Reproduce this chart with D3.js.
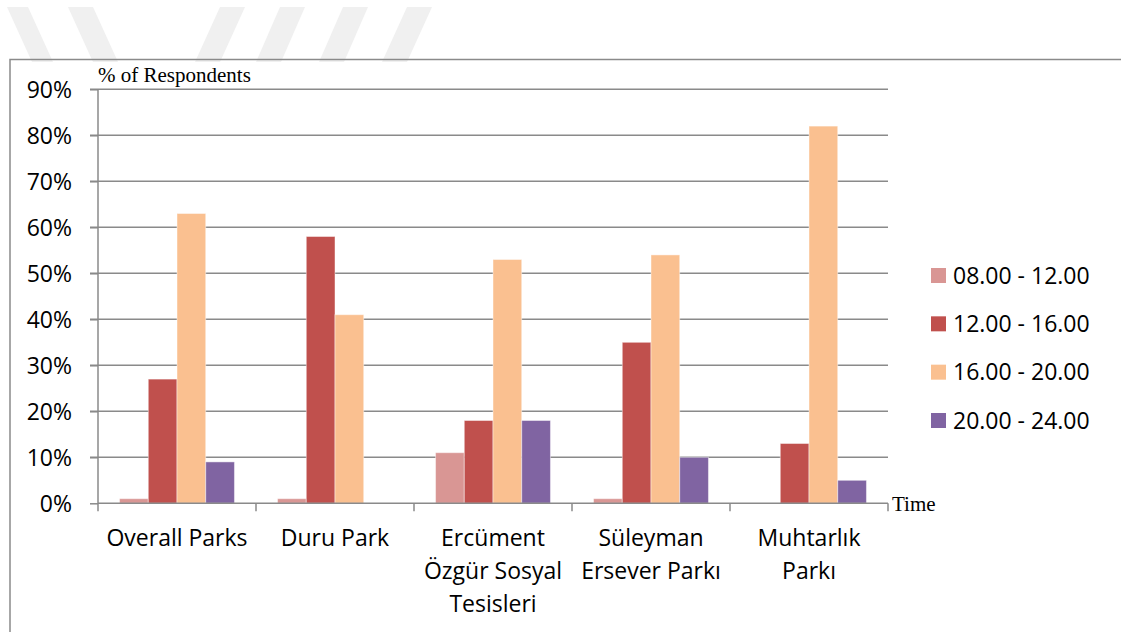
<!DOCTYPE html>
<html>
<head>
<meta charset="utf-8">
<script src="https://cdn.jsdelivr.net/npm/d3@7"></script>
<style>
  html, body { margin: 0; padding: 0; background: #fff; }
  svg { display: block; }
</style>
</head>
<body>
<svg id="chart" width="1121" height="632"></svg>
<script>
// Parks surveyed
const categories = [
  ["Overall Parks"],
  ["Duru Park"],
  ["Ercüment", "Özgür Sosyal", "Tesisleri"],
  ["Süleyman", "Ersever Parkı"],
  ["Muhtarlık", "Parkı"]
];
// Time slots (legend)
const seriesNames = ["08.00 - 12.00", "12.00 - 16.00", "16.00 - 20.00", "20.00 - 24.00"];
const seriesColors = ["#D99694", "#C0504D", "#FAC090", "#8064A2"];
// % of respondents per park, one array per time slot
const slot0812 = [1, 1, 11, 1, 0];
const slot1216 = [27, 58, 18, 35, 13];
const slot1620 = [63, 41, 53, 54, 82];
const slot2024 = [9, 0, 18, 10, 5];
const seriesValues = [slot0812, slot1216, slot1620, slot2024];
// Y axis ticks
const yTicks = [0, 10, 20, 30, 40, 50, 60, 70, 80, 90];

const svg = d3.select("#chart");
const W = 1121, H = 632;
const sans = "'Open Sans', 'DejaVu Sans', sans-serif";
const serif = "'Liberation Serif', 'DejaVu Serif', serif";
const gridColor = "#8a8a8a";
const fs = 23;

// faint background stripes across the top of the page
const stripes = [
  [[7, 7], [28, 7], [53, 62], [32, 62]],
  [[68, 7], [93, 7], [118, 62], [93, 62]],
  [[220, 7], [245, 7], [220, 62], [195, 62]],
  [[280, 7], [305, 7], [281, 62], [256, 62]],
  [[343, 7], [368, 7], [344, 62], [319, 62]],
  [[407, 7], [432, 7], [407, 62], [382, 62]]
];
svg.append("g").selectAll("polygon").data(stripes).join("polygon")
  .attr("points", d => d.map(p => p.join(",")).join(" "))
  .attr("fill", "#f0f0f0");

// chart frame (top and left edges visible)
svg.append("path")
  .attr("d", `M10,${H + 2} L10,59.5 L${W + 2},59.5`)
  .attr("fill", "none").attr("stroke", gridColor).attr("stroke-width", 1.5);

const plot = { left: 98, right: 888, top: 89.3, bottom: 503.3 };

const x0 = d3.scaleBand()
  .domain(d3.range(categories.length))
  .range([plot.left, plot.right])
  .paddingInner(0).paddingOuter(0);

// bars fill 4/5.5 of each band (gap = 1.5 bar widths)
const x1 = d3.scaleBand()
  .domain(d3.range(seriesNames.length))
  .range([0, x0.bandwidth()])
  .paddingOuter(0.75).paddingInner(0);

const y = d3.scaleLinear().domain([0, 90]).range([plot.bottom, plot.top]);

// gridlines
svg.append("g").selectAll("line").data(yTicks.filter(t => t > 0)).join("line")
  .attr("x1", plot.left - 8).attr("x2", plot.right)
  .attr("y1", d => y(d)).attr("y2", d => y(d))
  .attr("stroke", gridColor).attr("stroke-width", 1.5);

// y axis
const yAxis = svg.append("g")
  .attr("transform", `translate(${plot.left},0)`)
  .call(d3.axisLeft(y).tickValues(yTicks).tickSize(8).tickPadding(18)
    .tickFormat(d => d + "%"));
yAxis.select(".domain").attr("stroke", gridColor).attr("stroke-width", 1.5)
  .attr("d", `M0,${plot.top}V${plot.bottom}`);
yAxis.selectAll(".tick line").attr("stroke", gridColor).attr("stroke-width", 1.5);
yAxis.selectAll(".tick text")
  .attr("font-family", sans).attr("font-size", fs).attr("fill", "#000")
  .attr("dy", "0.35em");

// bars
const groups = svg.append("g").selectAll("g").data(categories).join("g")
  .attr("transform", (d, i) => `translate(${x0(i)},0)`);
groups.selectAll("rect")
  .data((d, i) => seriesValues.map((vals, s) => ({ s, v: vals[i] })))
  .join("rect")
  .attr("x", d => x1(d.s))
  .attr("width", x1.bandwidth())
  .attr("y", d => y(d.v))
  .attr("height", d => plot.bottom - y(d.v))
  .attr("fill", d => seriesColors[d.s])
  .attr("stroke", d => d.v > 0 ? "rgba(255,255,255,0.45)" : "none")
  .attr("stroke-width", 1);

// x axis
const xAxis = svg.append("g")
  .attr("transform", `translate(0,${plot.bottom})`);
xAxis.append("line")
  .attr("x1", plot.left).attr("x2", plot.right)
  .attr("stroke", gridColor).attr("stroke-width", 1.5);
xAxis.selectAll("line.tick").data(d3.range(categories.length + 1)).join("line")
  .attr("class", "tick")
  .attr("x1", i => i < categories.length ? x0(i) : plot.right)
  .attr("x2", i => i < categories.length ? x0(i) : plot.right)
  .attr("y1", 0).attr("y2", 8)
  .attr("stroke", gridColor).attr("stroke-width", 1.5);

// category labels
const catText = svg.append("g").selectAll("text").data(categories).join("text")
  .attr("font-family", sans).attr("font-size", fs).attr("fill", "#000")
  .attr("text-anchor", "middle");
catText.selectAll("tspan").data((d, i) => d.map(line => ({ line, i }))).join("tspan")
  .attr("x", d => x0(d.i) + x0.bandwidth() / 2)
  .attr("y", (d, j) => 546 + j * 33)
  .text(d => d.line);

// axis titles
svg.append("text")
  .attr("x", 98).attr("y", 82)
  .attr("font-family", serif).attr("font-size", 21).attr("fill", "#000")
  .text("% of Respondents");
svg.append("text")
  .attr("x", 892).attr("y", 511)
  .attr("font-family", serif).attr("font-size", 21).attr("fill", "#000")
  .text("Time");

// legend
const legend = svg.append("g").attr("transform", "translate(931,0)");
const legendY = d3.scalePoint().domain(d3.range(seriesNames.length)).range([275.5, 420.5]);
const items = legend.selectAll("g").data(seriesNames).join("g")
  .attr("transform", (d, i) => `translate(0,${legendY(i)})`);
items.append("rect")
  .attr("x", 0).attr("y", -7.5).attr("width", 15).attr("height", 15)
  .attr("fill", (d, i) => seriesColors[i]);
items.append("text")
  .attr("x", 22).attr("dy", "0.35em")
  .attr("font-family", sans).attr("font-size", fs).attr("fill", "#000")
  .text(d => d);
</script>
</body>
</html>
